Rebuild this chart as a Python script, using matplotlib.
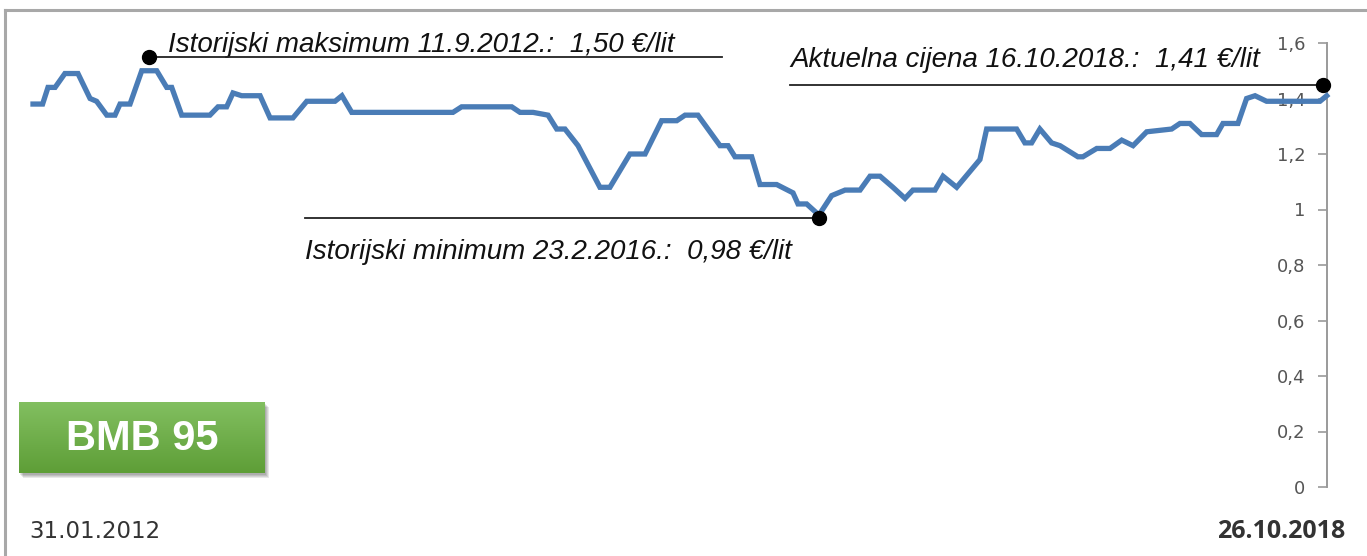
import matplotlib
matplotlib.use("Agg")
import matplotlib.pyplot as plt
import numpy as np
from matplotlib.patches import Rectangle
from matplotlib.lines import Line2D
from matplotlib.colors import LinearSegmentedColormap

# ---- data (decimal year, price €/lit) ----
years = [2012.082, 2012.132, 2012.160, 2012.197, 2012.248, 2012.316, 2012.379, 2012.413,
         2012.466, 2012.509, 2012.535, 2012.587, 2012.648, 2012.726, 2012.778, 2012.804,
         2012.856, 2013.003, 2013.045, 2013.090, 2013.123, 2013.168, 2013.201, 2013.264,
         2013.316, 2013.435, 2013.507, 2013.654, 2013.690, 2013.741, 2014.268, 2014.313,
         2014.574, 2014.617, 2014.685, 2014.763, 2014.808, 2014.851, 2014.919, 2015.033,
         2015.085, 2015.189, 2015.268, 2015.354, 2015.433, 2015.476, 2015.543, 2015.658,
         2015.700, 2015.736, 2015.823, 2015.866, 2015.953, 2016.038, 2016.064, 2016.109,
         2016.173, 2016.239, 2016.309, 2016.387, 2016.439, 2016.491, 2016.558, 2016.621,
         2016.662, 2016.777, 2016.819, 2016.890, 2017.011, 2017.046, 2017.202, 2017.245,
         2017.280, 2017.323, 2017.384, 2017.428, 2017.521, 2017.547, 2017.619, 2017.688,
         2017.749, 2017.808, 2017.879, 2018.009, 2018.052, 2018.104, 2018.165, 2018.243,
         2018.276, 2018.354, 2018.399, 2018.443, 2018.503, 2018.781, 2018.816]
prices = [1.38, 1.38, 1.44, 1.44, 1.49, 1.49, 1.40, 1.39,
          1.34, 1.34, 1.38, 1.38, 1.50, 1.50, 1.44, 1.44,
          1.34, 1.34, 1.37, 1.37, 1.42, 1.41, 1.41, 1.41,
          1.33, 1.33, 1.39, 1.39, 1.41, 1.35, 1.35, 1.37,
          1.37, 1.35, 1.35, 1.34, 1.29, 1.29, 1.23, 1.08,
          1.08, 1.20, 1.20, 1.32, 1.32, 1.34, 1.34, 1.23,
          1.23, 1.19, 1.19, 1.09, 1.09, 1.06, 1.02, 1.02,
          0.98, 1.05, 1.07, 1.07, 1.12, 1.12, 1.08, 1.04,
          1.07, 1.07, 1.12, 1.08, 1.18, 1.29, 1.29, 1.24,
          1.24, 1.29, 1.24, 1.23, 1.19, 1.19, 1.22, 1.22,
          1.25, 1.23, 1.28, 1.29, 1.31, 1.31, 1.27, 1.27,
          1.31, 1.31, 1.40, 1.41, 1.39, 1.39, 1.41]
y_ticks = [0, 0.2, 0.4, 0.6, 0.8, 1.0, 1.2, 1.4, 1.6]
y_tick_labels = ["0", "0,2", "0,4", "0,6", "0,8", "1", "1,2", "1,4", "1,6"]
start_label = "31.01.2012"
end_label = "26.10.2018"
max_text = "Istorijski maksimum 11.9.2012.:  1,50 €/lit"
min_text = "Istorijski minimum 23.2.2016.:  0,98 €/lit"
cur_text = "Aktuelna cijena 16.10.2018.:  1,41 €/lit"
badge_text = "BMB 95"

W, H = 1367, 556
fig = plt.figure(figsize=(W / 100, H / 100), dpi=100)
fig.patch.set_facecolor("white")

# frame (top + left)
fig.add_artist(Line2D([5 / W, 1], [1 - 10 / H, 1 - 10 / H], color="#a8a8a8", lw=2.2,
                      transform=fig.transFigure))
fig.add_artist(Line2D([5 / W, 5 / W], [0, 1 - 10 / H], color="#a8a8a8", lw=2.2,
                      transform=fig.transFigure))

x0, x1 = 33, 1326.7
yb, yt = 487, 43
ax = fig.add_axes([x0 / W, (H - yb) / H, (x1 - x0) / W, (yb - yt) / H])
ax.set_xlim(years[0], years[-1])
ax.set_ylim(0, 1.6)
ax.patch.set_alpha(0)
for s in ["top", "bottom", "right"]:
    ax.spines[s].set_visible(False)
ax.spines["left"].set_position(("axes", 1.0))
ax.spines["left"].set_color("#9a9a9a")
ax.spines["left"].set_linewidth(1.4)
ax.set_xticks([])
ax.set_yticks(y_ticks)
ax.set_yticklabels(y_tick_labels)
ax.tick_params(axis="y", direction="out", length=6.5, width=1.2, color="#9a9a9a",
               pad=9, labelsize=13, labelcolor="#555555")

x = np.array(years)
p = np.array(prices)
ax.plot(x, p, color="#4a7cb6", lw=3.8, solid_joinstyle="miter", zorder=4, clip_on=False)

tkw = dict(fontsize=20, style="italic", family="Liberation Sans", color="#111111",
           va="baseline", ha="left")

# annotations
i_max = int(np.argmax(p))
mx = (x[i_max] + x[i_max + 1]) / 2
ax.plot([mx, 2015.668], [p[i_max] + 0.05] * 2, color="#222222", lw=1.3, zorder=5, clip_on=False)
ax.plot([mx], [p[i_max] + 0.05], "o", color="black", ms=10, zorder=6, clip_on=False)
ax.text(2012.785, 1.566, max_text, **tkw)

i_min = int(np.argmin(p))
ax.plot([2013.498, x[i_min]], [p[i_min] - 0.01] * 2, color="#222222", lw=1.3, zorder=5, clip_on=False)
ax.plot([x[i_min]], [p[i_min] - 0.01], "o", color="black", ms=10, zorder=6, clip_on=False)
ax.text(2013.498, 0.822, min_text, **tkw)

ax.plot([2016.022, x[-1] - 0.02], [p[-1] + 0.04] * 2, color="#222222", lw=1.3, zorder=5, clip_on=False)
ax.plot([x[-1] - 0.02], [p[-1] + 0.04], "o", color="black", ms=10, zorder=6, clip_on=False)
ax.text(2016.022, 1.514, cur_text, **tkw)

# badge with gradient and soft shadow
bx, by, bw, bh = 19, 402, 246, 71
for k in range(4):
    off = 2 + k
    fig.add_artist(Rectangle(((bx + off - 1) / W, (H - by - bh - off) / H), bw / W, bh / H,
                             transform=fig.transFigure, facecolor="#000000", alpha=0.09,
                             lw=0, zorder=-1))
bax = fig.add_axes([bx / W, (H - by - bh) / H, bw / W, bh / H])
bax.set_zorder(3)
grad = np.linspace(0, 1, 100).reshape(-1, 1)
cmap = LinearSegmentedColormap.from_list("g", ["#82bf60", "#5e9e37"])
bax.imshow(grad, aspect="auto", cmap=cmap, extent=[0, 1, 0, 1], origin="upper")
bax.set_axis_off()
bax.text(0.5, 0.48, badge_text, color="white", fontsize=30, fontweight="bold",
         family="Liberation Sans", ha="center", va="center", transform=bax.transAxes)

fig.text(29 / W, 1 - 531 / H, start_label, fontsize=16.5, family="DejaVu Sans",
         color="#333333", ha="left", va="center")
fig.text(1345 / W, 1 - 531 / H, end_label, fontsize=18, family="Open Sans", fontweight="bold",
         color="#333333", ha="right", va="center")

fig.savefig("out.png", dpi=100, facecolor="white")
